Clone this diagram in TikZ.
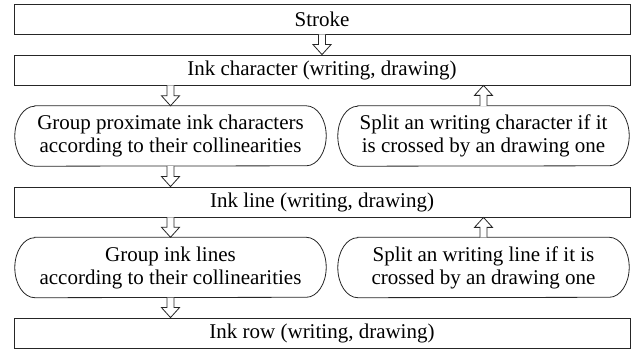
\documentclass[tikz,border=0pt]{standalone}
\usepackage{fontspec}
\setmainfont{Liberation Serif}
\usetikzlibrary{calc}
\newcommand\capsule[1]{\draw[lc] ($(#1.north west)+(20pt,0pt)$) -- ($(#1.north east)+(-20pt,0pt)$) arc[start angle=90,end angle=-90,x radius=20pt,y radius=30pt] -- ($(#1.south west)+(20pt,0pt)$) arc[start angle=270,end angle=90,x radius=20pt,y radius=30pt] -- cycle;}
\newcommand\darr[2]{\draw[arr] let \p1=(#1), \p2=(#2) in (\x1-3.5pt,\y1) -- (\x1-3.5pt,\y2+10pt) -- (\x1-9pt,\y2+10pt) -- (\x1,\y2) -- (\x1+9pt,\y2+10pt) -- (\x1+3.5pt,\y2+10pt) -- (\x1+3.5pt,\y1);}
\newcommand\uarr[2]{\draw[arr] let \p1=(#1), \p2=(#2) in (\x1-3.5pt,\y1) -- (\x1-3.5pt,\y2-10pt) -- (\x1-9pt,\y2-10pt) -- (\x1,\y2) -- (\x1+9pt,\y2-10pt) -- (\x1+3.5pt,\y2-10pt) -- (\x1+3.5pt,\y1);}
\begin{document}
\begin{tikzpicture}[x=1pt,y=1pt,
  lc/.style={draw=black!85, line width=0.8pt},
  bar/.style={lc, minimum width=616pt, minimum height=30pt, inner sep=0pt, font=\fontsize{21}{23}\selectfont},
  capbox/.style={inner sep=0pt, minimum height=60pt, align=center, font=\fontsize{21}{23}\selectfont},
  arr/.style={lc, fill=white, line join=miter}]
\useasboundingbox (0,0) rectangle (636,350);
\node[bar] (stroke) at (322,331) {Stroke};
\node[bar] (ichar) at (322,280) {Ink character (writing, drawing)};
\node[capbox, minimum width=311pt] (g1) at (170.5,214) {Group proximate ink characters\\according to their collinearities};
\node[capbox, minimum width=291pt] (s1) at (483.5,214) {Split an writing character if it\\is crossed by an drawing one};
\node[bar] (iline) at (322,148) {Ink line (writing, drawing)};
\node[capbox, minimum width=311pt] (g2) at (170.5,82.5) {Group ink lines\\according to their collinearities};
\node[capbox, minimum width=291pt] (s2) at (483.5,82.5) {Split an writing line if it is\\crossed by an drawing one};
\node[bar] (irow) at (322,17) {Ink row (writing, drawing)};
\capsule{g1}
\capsule{s1}
\capsule{g2}
\capsule{s2}
\darr{stroke.south}{ichar.north}
\darr{ichar.south -| g1.north}{g1.north}
\darr{g1.south}{g1.south |- iline.north}
\darr{iline.south -| g2.north}{g2.north}
\darr{g2.south}{g2.south |- irow.north}
\uarr{s1.north}{s1.north |- ichar.south}
\uarr{s2.north}{s2.north |- iline.south}
\end{tikzpicture}
\end{document}
